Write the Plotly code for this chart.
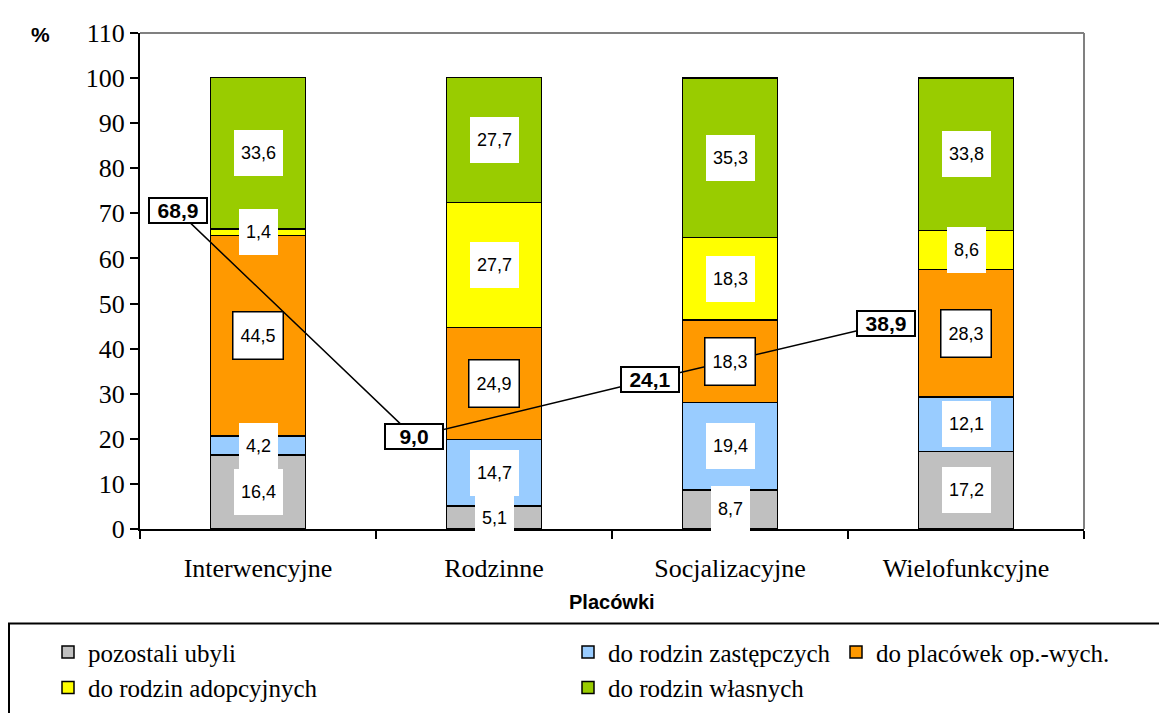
# ================================================= Libraries =========================================================


import plotly.graph_objects as go


# ================================================= Data ==============================================================


categories = ['Interwencyjne', 'Rodzinne', 'Socjalizacyjne', 'Wielofunkcyjne']

pozostali_ubyli = [16.4, 5.1, 8.7, 17.2]
rodziny_zastepcze = [4.2, 14.7, 19.4, 12.1]
placowki_op_wych = [44.5, 24.9, 18.3, 28.3]
rodziny_adopcyjne = [1.4, 27.7, 18.3, 8.6]
rodziny_wlasne = [33.6, 27.7, 35.3, 33.8]

# Values of the thin line drawn across the bars.
line_values = [68.9, 9.0, 24.1, 38.9]


# ================================================= Layout helpers ====================================================


W, H = 1167, 713
M_L, M_R, M_T, M_B = 132, 91, 11, 177
PLOT_W = W - M_L - M_R
PLOT_H = H - M_T - M_B


def px_x(px):
    # Page pixel -> paper x.
    return (px - M_L) / PLOT_W


def px_y(px):
    # Page pixel -> paper y.
    return (H - M_B - px) / PLOT_H


def fmt(v):
    return '{:.1f}'.format(v).replace('.', ',')


SERIF = 'Liberation Serif'
SANS = 'Liberation Sans'

series = [
    ('pozostali ubyli', pozostali_ubyli, '#C0C0C0', 'legend'),
    ('do rodzin zastępczych', rodziny_zastepcze, '#99CCFF', 'legend2'),
    ('do placówek op.-wych.', placowki_op_wych, '#FF9900', 'legend3'),
    ('do rodzin adopcyjnych', rodziny_adopcyjne, '#FFFF00', 'legend'),
    ('do rodzin własnych', rodziny_wlasne, '#99CC00', 'legend2'),
]


# ================================================= Figure ============================================================


fig = go.Figure()

annotations = []
base = [0.0] * len(categories)
for name, values, color, leg in series:
    fig.add_trace(go.Bar(
        x=categories,
        y=values,
        name=name,
        legend=leg,
        legendgroup=name,
        marker=dict(color=color, line=dict(color='black', width=1.5)),
    ))
    # Data labels in white boxes, centred on each segment.
    boxed = values is placowki_op_wych
    for i, v in enumerate(values):
        annotations.append(dict(
            x=categories[i], y=base[i] + v / 2, xref='x', yref='y',
            text=fmt(v), showarrow=False,
            font=dict(family=SANS, size=18, color='black'),
            bgcolor='white',
            bordercolor='black' if boxed else 'rgba(0,0,0,0)',
            borderwidth=1.5 if boxed else 0,
            height=32, borderpad=7,
        ))
        base[i] += v

# Line series on hidden secondary axes.
line_x = [i - 0.34 for i in range(len(categories))]
fig.add_trace(go.Scatter(
    x=line_x, y=line_values, xaxis='x2', yaxis='y2',
    mode='lines', line=dict(color='black', width=1.5),
    showlegend=False, hoverinfo='skip',
))
for x, v in zip(line_x, line_values):
    annotations.append(dict(
        x=x, y=v, xref='x2', yref='y2',
        text='<b>' + fmt(v) + '</b>', showarrow=False,
        font=dict(family=SANS, size=21, color='black'),
        bgcolor='white', bordercolor='black', borderwidth=2,
        width=54, height=21, borderpad=1,
    ))

# Axis captions.
annotations.append(dict(
    x=px_x(32), y=px_y(13), xref='paper', yref='paper',
    xanchor='center', yanchor='middle',
    text='<b>%</b>', showarrow=False,
    font=dict(family=SANS, size=21, color='black'),
))
annotations.append(dict(
    x=0.5, y=px_y(613), xref='paper', yref='paper',
    xanchor='center', yanchor='middle',
    text='<b>Placówki</b>', showarrow=False,
    font=dict(family=SANS, size=20, color='black'),
))

legend_common = dict(
    orientation='v', xanchor='left', yanchor='top',
    bgcolor='rgba(0,0,0,0)', borderwidth=0,
    font=dict(family=SERIF, size=25, color='black'),
    tracegroupgap=0, itemclick=False, itemdoubleclick=False,
)

fig.update_layout(
    width=W, height=H,
    margin=dict(l=M_L, r=M_R, t=M_T, b=M_B),
    paper_bgcolor='white', plot_bgcolor='white',
    barmode='stack', bargap=0.596,
    annotations=annotations,
    legend=dict(x=px_x(40), y=px_y(642), **legend_common),
    legend2=dict(x=px_x(560), y=px_y(642), **legend_common),
    legend3=dict(x=px_x(828), y=px_y(642), **legend_common),
    xaxis=dict(
        type='category', showline=True, linecolor='black', linewidth=2,
        ticks='outside', tickson='boundaries', ticklen=8, tickwidth=2, tickcolor='black',
        tickfont=dict(family=SERIF, size=26, color='black'),
        ticklabelstandoff=15, showgrid=False, zeroline=False,
    ),
    yaxis=dict(
        range=[0, 110], dtick=10, showline=True, linecolor='black', linewidth=2,
        ticks='outside', ticklen=8, tickwidth=2, tickcolor='black',
        tickfont=dict(family=SERIF, size=26, color='black'),
        ticklabelstandoff=0, ticklabeloverflow='allow',
        showgrid=False, zeroline=False,
    ),
    xaxis2=dict(overlaying='x', range=[-0.5, 3.5], visible=False),
    yaxis2=dict(overlaying='y', range=[-15.5, 116.1], visible=False),
    shapes=[
        # Plot area border (top and right).
        dict(type='line', xref='paper', yref='paper', x0=0, x1=1, y0=1, y1=1,
             line=dict(color='#808080', width=2)),
        dict(type='line', xref='paper', yref='paper', x0=1, x1=1, y0=0, y1=1,
             line=dict(color='#808080', width=2)),
        # Legend frame (runs off the bottom of the page).
        dict(type='rect', xref='paper', yref='paper',
             x0=px_x(1), x1=px_x(1165), y0=px_y(780), y1=px_y(636),
             line=dict(color='black', width=2)),
    ],
)

fig.write_html("out.html")
